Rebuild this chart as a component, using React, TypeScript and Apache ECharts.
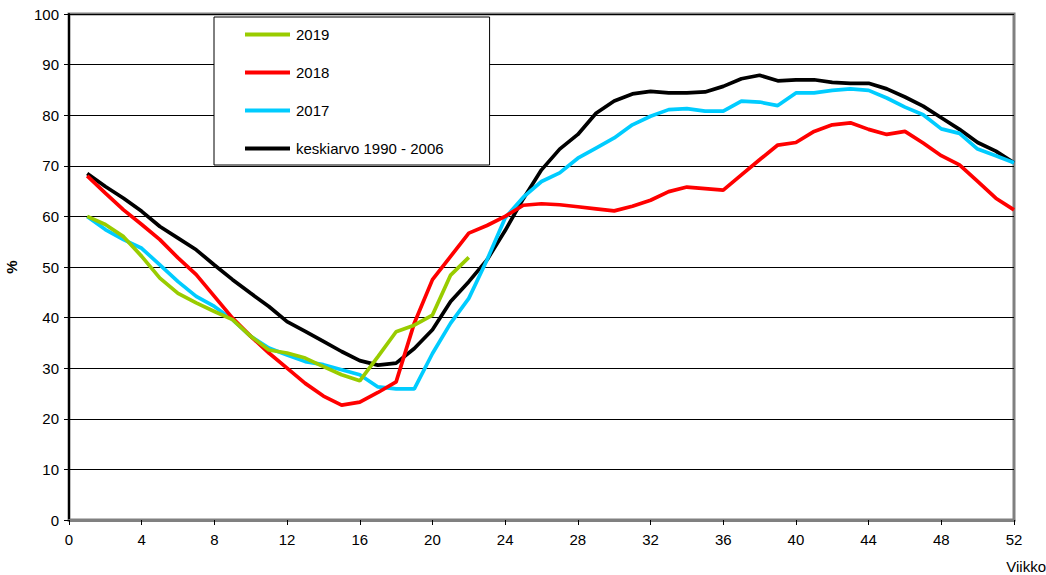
import React, { useEffect, useRef } from "react";
import * as echarts from "echarts";

const weeks: number[] = Array.from({ length: 52 }, (_, i) => i + 1);

const s2019: number[] = [
  60.0, 58.4, 56.0, 52.1, 47.8, 44.8, 42.9, 41.2, 39.6, 36.3, 33.6, 33.0, 32.0,
  30.3, 28.7, 27.5, 32.3, 37.2, 38.5, 40.5, 48.4, 51.9,
];

const s2018: number[] = [
  68.0, 64.6, 61.3, 58.4, 55.4, 51.8, 48.5, 44.2, 39.9, 36.3, 33.0, 30.0, 27.0,
  24.5, 22.7, 23.3, 25.2, 27.3, 38.9, 47.5, 52.1, 56.7, 58.2, 60.0, 62.2, 62.5,
  62.3, 61.9, 61.5, 61.1, 62.0, 63.2, 64.9, 65.8, 65.5, 65.2, 68.2, 71.2, 74.1,
  74.6, 76.8, 78.1, 78.5, 77.2, 76.2, 76.8, 74.5, 72.0, 70.2, 66.9, 63.6, 61.3,
];

const s2017: number[] = [
  60.0, 57.4, 55.4, 53.7, 50.4, 47.1, 44.2, 42.2, 39.6, 36.3, 34.0, 32.6, 31.3,
  30.7, 29.7, 28.7, 26.3, 25.9, 25.9, 32.9, 38.9, 43.8, 51.4, 59.7, 63.8, 66.9,
  68.6, 71.5, 73.5, 75.5, 78.1, 79.8, 81.1, 81.3, 80.8, 80.8, 82.8, 82.6, 81.9,
  84.4, 84.4, 84.9, 85.2, 84.9, 83.4, 81.6, 80.1, 77.3, 76.4, 73.3, 72.0, 70.6,
];

const sAvg: number[] = [
  68.5, 65.9, 63.6, 61.0, 58.0, 55.7, 53.4, 50.4, 47.5, 44.8, 42.2, 39.2, 37.3,
  35.3, 33.3, 31.5, 30.6, 31.0, 33.9, 37.6, 43.2, 47.1, 51.4, 57.2, 63.5, 69.2,
  73.3, 76.2, 80.4, 82.8, 84.2, 84.7, 84.4, 84.4, 84.6, 85.7, 87.2, 87.9, 86.8,
  87.0, 87.0, 86.5, 86.3, 86.3, 85.2, 83.6, 81.8, 79.5, 77.2, 74.6, 72.9, 70.6,
];

const seriesNames: string[] = ["2019", "2018", "2017", "keskiarvo 1990 - 2006"];
const seriesColors: string[] = ["#99CC00", "#FF0000", "#00CCFF", "#000000"];
const seriesData: number[][] = [s2019, s2018, s2017, sAvg];

const FONT = "Liberation Sans, Arial, sans-serif";

export default function App() {
  const ref = useRef<HTMLDivElement>(null);
  useEffect(() => {
    if (!ref.current) return;
    const chart = echarts.init(ref.current, undefined, { renderer: "svg" });
    chart.setOption({
      animation: false,
      backgroundColor: "#ffffff",
      grid: {
        left: 69,
        right: 32,
        top: 14,
        bottom: 55,
        outerBoundsMode: "none",
        containLabel: false,
        show: true,
        borderColor: "#808080",
        borderWidth: 3,
        backgroundColor: "transparent",
      },
      legend: {
        orient: "vertical",
        left: 214,
        top: 17,
        data: seriesNames,
        icon: "rect",
        itemWidth: 45,
        itemHeight: 4,
        itemGap: 23,
        padding: [10, 46, 9, 31],
        backgroundColor: "#ffffff",
        borderColor: "#000000",
        borderWidth: 1,
        textStyle: { fontFamily: FONT, fontSize: 15, color: "#000", padding: [0, 0, 0, 1] },
      },
      xAxis: {
        type: "value",
        min: 0,
        max: 52,
        interval: 4,
        axisLine: { show: true, lineStyle: { color: "#808080", width: 3 } },
        axisTick: { show: true, length: 5, lineStyle: { color: "#000", width: 1 } },
        axisLabel: { fontFamily: FONT, fontSize: 15, color: "#000", margin: 12 },
        splitLine: { show: false },
      },
      yAxis: {
        type: "value",
        min: 0,
        max: 100,
        interval: 10,
        name: "%",
        nameLocation: "middle",
        nameGap: 50,
        nameRotate: 90,
        nameTextStyle: { fontFamily: FONT, fontSize: 15, fontWeight: "bold", color: "#000" },
        axisLine: { show: true, lineStyle: { color: "#000", width: 2 } },
        axisTick: { show: true, length: 5, lineStyle: { color: "#000", width: 1 } },
        axisLabel: { fontFamily: FONT, fontSize: 15, color: "#000", margin: 10 },
        splitLine: { show: true, lineStyle: { color: "#000", width: 1 } },
      },
      graphic: [
        {
          type: "text",
          right: 0,
          top: 559,
          style: { text: "Viikko", fontFamily: FONT, fontSize: 15, fill: "#000" },
        },
      ],
      series: seriesNames.map((name, i) => ({
        name,
        type: "line",
        data: seriesData[i].map((v, j) => [weeks[j], v]),
        showSymbol: false,
        symbol: "none",
        color: seriesColors[i],
        lineStyle: { color: seriesColors[i], width: 3.7 },
        z: 10 - i,
      })),
    });
    return () => chart.dispose();
  }, []);
  return <div ref={ref} style={{ width: 1046, height: 575, position: "absolute", left: 0, top: 0 }} />;
}
